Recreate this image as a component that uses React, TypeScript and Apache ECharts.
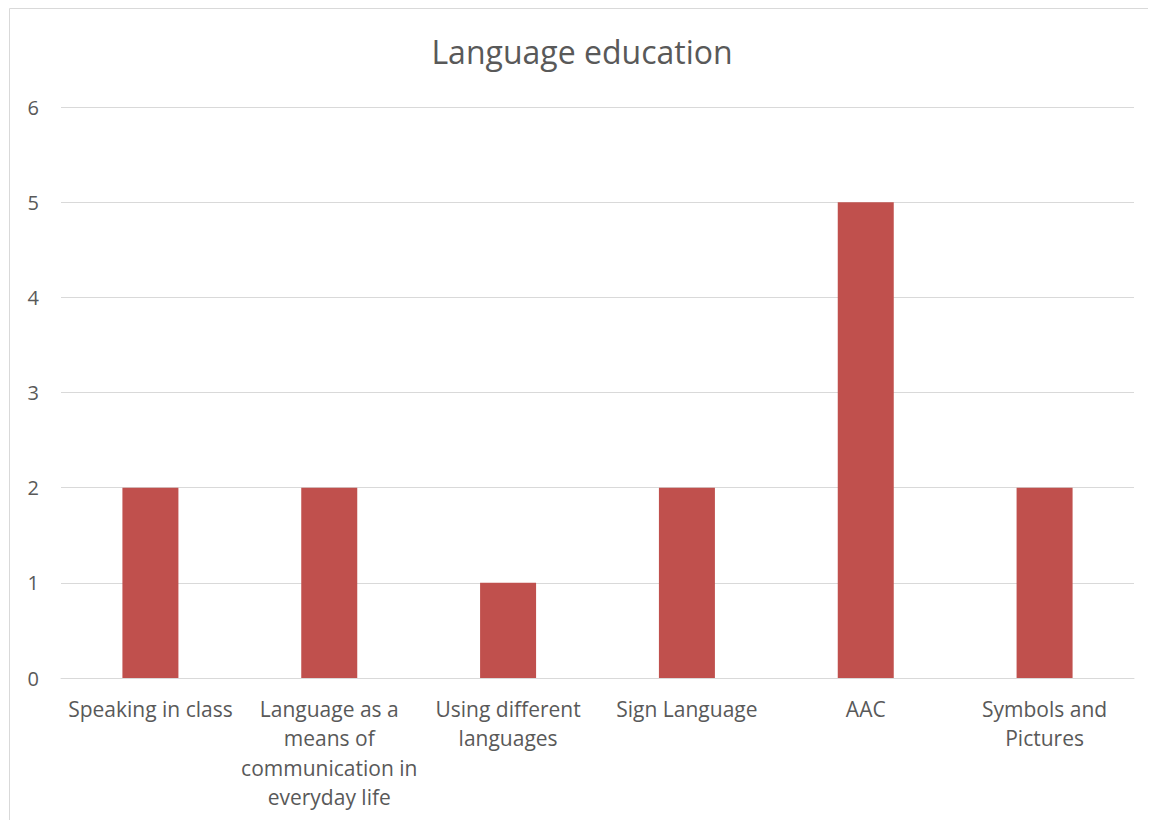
import React, { useEffect, useRef } from "react";
import * as echarts from "echarts";

const categories = [
  "Speaking in class",
  "Language as a means of communication in everyday life",
  "Using different languages",
  "Sign Language",
  "AAC",
  "Symbols and Pictures",
];
const tickLabels = [
  "Speaking in class",
  "Language as a\nmeans of\ncommunication in\neveryday life",
  "Using different\nlanguages",
  "Sign Language",
  "AAC",
  "Symbols and\nPictures",
];
const values = [2, 2, 1, 2, 5, 2];
const title = "Language education";

export default function App() {
  const ref = useRef<HTMLDivElement>(null);
  useEffect(() => {
    const chart = echarts.init(ref.current!, null, { renderer: "svg" });
    const font = "'Open Sans', 'Liberation Sans', sans-serif";
    chart.setOption({
      animation: false,
      title: {
        text: title,
        left: "center",
        top: 22,
        textStyle: { fontFamily: font, fontSize: 32, fontWeight: "normal", color: "#595959" },
      },
      graphic: [
        {
          type: "rect",
          shape: { x: 1.5, y: 0.5, width: 1300, height: 1000 },
          style: { fill: "none", stroke: "#d9d9d9", lineWidth: 1 },
          silent: true,
        },
      ],
      grid: { left: 53, right: 22, top: 99, bottom: 142, containLabel: false },
      xAxis: {
        type: "category",
        data: categories,
        axisLine: { show: true, lineStyle: { color: "#d9d9d9", width: 1 } },
        axisTick: { show: false },
        axisLabel: {
          interval: 0,
          margin: 16,
          lineHeight: 29.5,
          fontFamily: font,
          fontSize: 21,
          color: "#595959",
          formatter: (_v: string, i: number) => tickLabels[i],
        },
      },
      yAxis: {
        type: "value",
        min: 0,
        max: 6,
        interval: 1,
        axisLine: { show: false },
        axisTick: { show: false },
        splitLine: { lineStyle: { color: "#d9d9d9", width: 1 } },
        axisLabel: { margin: 22, fontFamily: font, fontSize: 20, color: "#595959" },
      },
      series: [
        {
          type: "bar",
          data: values,
          barWidth: 56,
          itemStyle: { color: "#C0504D" },
        },
      ],
    });
    return () => chart.dispose();
  }, []);
  return <div ref={ref} style={{ width: 1148, height: 812 }} />;
}
